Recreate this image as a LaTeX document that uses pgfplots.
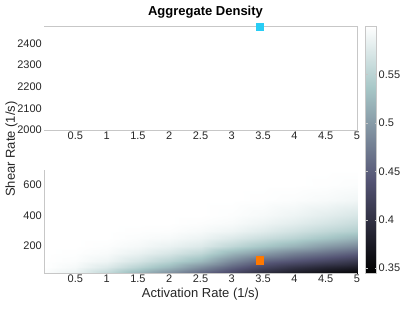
\documentclass[border=0pt]{standalone}
\usepackage{fontspec}
\setmainfont{Liberation Sans}
\usepackage{pgfplots}
\pgfplotsset{compat=1.18}
\definecolor{axgray}{gray}{0.78}
\definecolor{txt}{gray}{0.15}
\definecolor{mkcyan}{RGB}{40,205,245}
\definecolor{mkorange}{RGB}{255,120,0}
\begin{document}
\begin{tikzpicture}
\path[use as bounding box] (0pt,0pt) rectangle (403pt,311pt);
\pgfplotsset{
  common/.style={
    scale only axis, width=313pt, xmin=0, xmax=5,
    xtick={0.5,1,1.5,2,2.5,3,3.5,4,4.5,5},
    xticklabels={0.5,1,1.5,2,2.5,3,3.5,4,4.5,5},
    axis line style={draw=none},
    major tick length=0pt,
    tick style={draw=none},
    tick label style={font=\fontsize{11}{13}\selectfont, text=txt},
    xticklabel style={inner sep=2pt},
    yticklabel style={inner sep=2pt},
  }
}
\begin{axis}[common, at={(44pt,181pt)}, anchor=south west, height=104pt,
  ymin=2000, ymax=2480,
  ytick={2000,2100,2200,2300,2400},
  yticklabels={2000,2100,2200,2300,2400},
  clip=false]
\addplot[only marks, mark=square*, mark size=3.7pt,
  mark options={draw=mkcyan, fill=mkcyan}] coordinates {(3.45,2477)};
\draw[axgray, line width=0.6pt] (rel axis cs:0,1) -- (rel axis cs:1,1) -- (rel axis cs:1,0) -- (rel axis cs:0,0);
\end{axis}
\begin{axis}[common, at={(44pt,38pt)}, anchor=south west, height=103pt,
  ymin=20, ymax=700,
  ytick={200,400,600}, yticklabels={200,400,600},
  ztick=\empty,
  view={0}{90},
  colormap={bone}{rgb(0pt)=(0,0,0); rgb(3pt)=(0.328,0.328,0.453); rgb(6pt)=(0.656,0.781,0.781); rgb(8pt)=(1,1,1)},
  point meta min=0.345, point meta max=0.6,
  colorbar,
  colorbar style={
    at={([xshift=11pt]parent axis.south east)}, anchor=south west,
    width=11pt, height=247pt,
    ytick={0.35,0.4,0.45,0.5,0.55},
    yticklabels={0.35,0.4,0.45,0.5,0.55},
    axis line style={draw=axgray, line width=0.6pt},
    major tick length=2pt,
    tick style={draw=axgray},
    yticklabel style={font=\fontsize{11}{13}\selectfont, text=txt, inner sep=2pt},
  },
  clip mode=individual]
\addplot3[surf, shader=interp, mesh/ordering=x varies, mesh/cols=11] table {
x y z
0 20 0.597
0.5 20 0.585
1 20 0.555
1.5 20 0.52
2 20 0.49
2.5 20 0.455
3 20 0.425
3.5 20 0.395
4 20 0.375
4.5 20 0.36
5 20 0.35
0 60 0.6
0.5 60 0.593
1 60 0.575
1.5 60 0.55
2 60 0.525
2.5 60 0.49
3 60 0.455
3.5 60 0.425
4 60 0.405
4.5 60 0.39
5 60 0.38
0 100 0.6
0.5 100 0.597
1 100 0.588
1.5 100 0.57
2 100 0.55
2.5 100 0.525
3 100 0.485
3.5 100 0.455
4 100 0.44
4.5 100 0.425
5 100 0.41
0 150 0.6
0.5 150 0.599
1 150 0.595
1.5 150 0.585
2 150 0.572
2.5 150 0.555
3 150 0.522
3.5 150 0.5
4 150 0.48
4.5 150 0.465
5 150 0.45
0 200 0.6
0.5 200 0.6
1 200 0.598
1.5 200 0.593
2 200 0.585
2.5 200 0.575
3 200 0.555
3.5 200 0.537
4 200 0.52
4.5 200 0.5
5 200 0.485
0 250 0.6
0.5 250 0.6
1 250 0.6
1.5 250 0.597
2 250 0.594
2.5 250 0.587
3 250 0.575
3.5 250 0.562
4 250 0.55
4.5 250 0.535
5 250 0.52
0 300 0.6
0.5 300 0.6
1 300 0.6
1.5 300 0.599
2 300 0.598
2.5 300 0.594
3 300 0.588
3.5 300 0.578
4 300 0.567
4.5 300 0.555
5 300 0.545
0 350 0.6
0.5 350 0.6
1 350 0.6
1.5 350 0.6
2 350 0.6
2.5 350 0.598
3 350 0.595
3.5 350 0.588
4 350 0.58
4.5 350 0.57
5 350 0.56
0 400 0.6
0.5 400 0.6
1 400 0.6
1.5 400 0.6
2 400 0.6
2.5 400 0.6
3 400 0.598
3.5 400 0.594
4 400 0.588
4.5 400 0.58
5 400 0.572
0 500 0.6
0.5 500 0.6
1 500 0.6
1.5 500 0.6
2 500 0.6
2.5 500 0.6
3 500 0.6
3.5 500 0.599
4 500 0.597
4.5 500 0.594
5 500 0.59
0 600 0.6
0.5 600 0.6
1 600 0.6
1.5 600 0.6
2 600 0.6
2.5 600 0.6
3 600 0.6
3.5 600 0.6
4 600 0.6
4.5 600 0.599
5 600 0.597
0 700 0.6
0.5 700 0.6
1 700 0.6
1.5 700 0.6
2 700 0.6
2.5 700 0.6
3 700 0.6
3.5 700 0.6
4 700 0.6
4.5 700 0.6
5 700 0.6
};
\addplot3[only marks, mark=square*, mark size=3.7pt,
  mark options={draw=mkorange, fill=mkorange}] coordinates {(3.45,105,0.7)};
\draw[axgray, line width=0.6pt] (rel axis cs:0,1,0) -- (rel axis cs:0,0,0) -- (rel axis cs:1,0,0);
\end{axis}
\node[rotate=90, font=\fontsize{13}{15}\selectfont, text=txt] at (11.5pt,162pt) {Shear Rate (1/s)};
\node[font=\fontsize{13}{15}\selectfont, text=txt] at (200.5pt,17pt) {Activation Rate (1/s)};
\node[font=\bfseries\fontsize{13}{15}\selectfont] at (205.5pt,299pt) {Aggregate Density};
\end{tikzpicture}
\end{document}
